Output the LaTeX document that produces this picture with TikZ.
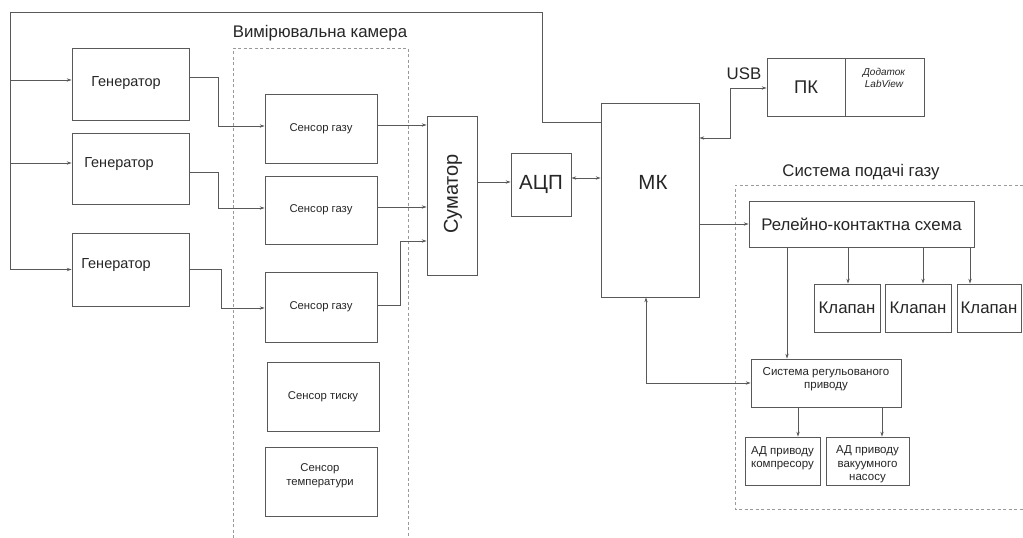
\documentclass[tikz,border=0pt]{standalone}
\usepackage{fontspec}
\setmainfont{Liberation Sans}
\usetikzlibrary{arrows.meta}
\begin{document}
\begin{tikzpicture}[x=1pt,y=-1pt,
  line/.style={draw=black!65, line width=0.75pt},
  box/.style={line, rectangle, inner sep=1pt, align=center, text=black!85},
  arr/.style={line, -{Stealth[length=5pt,width=3.4pt]}},
  arrb/.style={line, {Stealth[length=5pt,width=3.4pt]}-{Stealth[length=5pt,width=3.4pt]}},
  dashframe/.style={draw=black!40, line width=0.6pt, dash pattern=on 3pt off 2.5pt},
  lbl/.style={text=black!85, inner sep=0pt, align=center},
  fgen/.style={font=\fontsize{14.5}{16}\selectfont},
  fsen/.style={font=\fontsize{11.3}{14}\selectfont},
  fmid/.style={font=\fontsize{16.8}{19}\selectfont},
  fsmall/.style={font=\fontsize{11.5}{13.5}\selectfont}
]
\useasboundingbox (0,0) rectangle (1023,538);
\fill[white] (0,0) rectangle (1023,538);

% frames
\draw[dashframe] (233,538) -- (233,48) -- (408,48) -- (408,538);
\node[lbl, fmid] (camlbl) at (320,33) {Вимірювальна камера};
\draw[dashframe] (1023,185) -- (735,185) -- (735,509) -- (1023,509);
\node[lbl, fmid] (gaslbl) at (861,172) {Система подачі газу};

% generators
\node[box, minimum width=117, minimum height=72] (g1) at (130.5,84) {};
\node[box, minimum width=117, minimum height=71] (g2) at (130.5,168.5) {};
\node[box, minimum width=117, minimum height=73] (g3) at (130.5,269.5) {};
\node[lbl, fgen] (g1t) at (126,83) {Генератор};
\node[lbl, fgen] (g2t) at (119,164) {Генератор};
\node[lbl, fgen] (g3t) at (116,265) {Генератор};

% sensors
\node[box, minimum width=112, minimum height=69, fsen] (s1) at (321,128.5) {Сенсор газу};
\node[box, minimum width=112, minimum height=68, fsen] (s2) at (321,210) {Сенсор газу};
\node[box, minimum width=112, minimum height=70, fsen] (s3) at (321,307) {Сенсор газу};
\node[box, minimum width=112, minimum height=69, fsen] (sp) at (323,396.5) {Сенсор тиску};
\node[box, minimum width=112, minimum height=69] (st) at (321,481.5) {};
\node[lbl, fsen] (stt) at (320,476) {Сенсор\\температури};

% summator, ADC, MK
\node[box, minimum width=50, minimum height=159] (sum) at (452,195.5) {};
\node[lbl, rotate=90, font=\fontsize{20}{22}\selectfont] (sumt) at (453,194) {Суматор};
\node[box, minimum width=60, minimum height=63, font=\fontsize{20.5}{22}\selectfont] (adc) at (541,184.5) {АЦП};
\node[box, minimum width=98, minimum height=194] (mk) at (650,200) {};
\node[lbl, font=\fontsize{20.5}{22}\selectfont] (mkt) at (653,182) {МК};

% PC
\node[box, minimum width=78, minimum height=58, font=\fontsize{18.4}{20}\selectfont] (pc) at (806,87) {ПК};
\node[box, minimum width=79, minimum height=58] (app) at (884.5,87) {};
\node[lbl, font=\fontsize{10}{12}\selectfont\itshape] (appt) at (884,78) {Додаток\\LabView};
\node[lbl, fmid] (usb) at (744,74) {USB};

% gas supply
\node[box, minimum width=225, minimum height=46, fmid] (relay) at (861.5,224) {Релейно-контактна схема};
\node[box, minimum width=66, minimum height=48, fmid] (k1) at (847,308) {Клапан};
\node[box, minimum width=66, minimum height=48, fmid] (k2) at (918,308) {Клапан};
\node[box, minimum width=64, minimum height=48, fmid] (k3) at (989,308) {Клапан};
\node[box, minimum width=150, minimum height=48] (srp) at (826,383) {};
\node[lbl, fsmall] (srpt) at (826,379) {Система регульованого\\приводу};
\node[box, minimum width=75, minimum height=48] (ad1) at (782.5,461) {};
\node[lbl, fsmall] (ad1t) at (782.5,458) {АД приводу\\компресору};
\node[box, minimum width=83, minimum height=48] (ad2) at (867.5,461) {};
\node[lbl, fsmall] (ad2t) at (867.5,464.5) {АД приводу\\вакуумного\\насосу};

% feedback line MK -> generators
\coordinate (tl) at (10,12);
\coordinate (g1a) at ([yshift=4pt]g1.west);
\coordinate (g2a) at ([yshift=5.5pt]g2.west);
\draw[arr] ([yshift=78pt]mk.west) -- ++(-58,0) -- ++(0,-110) -- (tl) |- (g3.west);
\draw[arr] (tl |- g1a) -- (g1a);
\draw[arr] (tl |- g2a) -- (g2a);

% generators -> sensors
\draw[arr] ([yshift=7pt]g1.east) -- ++(29,0) |- ([yshift=2.5pt]s1.west);
\draw[arr] ([yshift=-3.5pt]g2.east) -- ++(29,0) |- ([yshift=2pt]s2.west);
\draw[arr] (g3.east) -- ++(32,0) |- ([yshift=-1pt]s3.west);

% sensors -> summator
\draw[arr] ([yshift=3.5pt]s1.east) -- ([yshift=70.5pt]sum.west);
\draw[arr] ([yshift=3pt]s2.east) -- ([yshift=-11.5pt]sum.west);
\draw[arr] ([yshift=2pt]s3.east) -- ++(23,0) |- ([yshift=-45.5pt]sum.west);

% summator -> ADC -> MK
\draw[arr] ([yshift=13.5pt]sum.east) -- ([yshift=2.5pt]adc.west);
\draw[arrb] ([yshift=6.5pt]adc.east) -- ([yshift=22pt]mk.west);

% MK <-> PC
\draw[arrb] ([yshift=62pt]mk.east) -- ++(31,0) |- ([yshift=-1pt]pc.west);

% MK -> relay
\draw[arr] (mk.east |- relay.west) -- (relay.west);

% relay -> valves
\draw[arr] ([xshift=-13.5pt]relay.south) -- ([xshift=1pt]k1.north);
\draw[arr] ([xshift=61.5pt]relay.south) -- ([xshift=5pt]k2.north);
\draw[arr] ([xshift=108.5pt]relay.south) -- ([xshift=-19pt]k3.north);

% relay -> drive system
\draw[arr] ([xshift=-74.5pt]relay.south) -- ([xshift=-39pt]srp.north);

% MK <-> drive system
\draw[arrb] ([xshift=-4pt]mk.south) |- (srp.west);

% drive system -> motors
\draw[arr] ([xshift=-28pt]srp.south) -- ([xshift=15.5pt]ad1.north);
\draw[arr] ([xshift=56pt]srp.south) -- ([xshift=14.5pt]ad2.north);
\end{tikzpicture}
\end{document}
